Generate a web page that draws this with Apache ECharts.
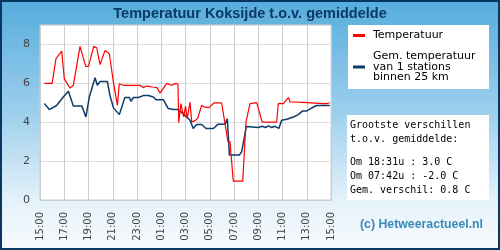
<!DOCTYPE html>
<html>
<head>
<meta charset="utf-8">
<script src="https://cdn.jsdelivr.net/npm/echarts@6/dist/echarts.min.js"></script>
<style>
  html, body { margin: 0; padding: 0; }
  #chart { width: 500px; height: 250px; }
</style>
</head>
<body>
<div id="chart"></div>
<script>
// uren na 15:00
var tempHours = [0.36, 1.0, 1.32, 1.79, 2.0, 2.47, 2.75, 3.3, 3.46, 3.77, 4.0, 4.43, 4.68, 4.95, 5.36, 5.72,
    6.05, 6.38, 6.54, 6.87, 8.25, 8.52, 8.8, 9.3, 9.65, 9.9, 10.45, 10.85, 11.2, 11.38, 11.44, 11.62, 11.85,
    12.0, 12.15, 12.37, 12.51, 12.78, 13.0, 13.33, 13.53, 13.69, 13.94, 14.35, 14.98, 15.5, 15.67, 15.94,
    16.72, 16.99, 17.32, 17.87, 18.0, 18.33, 19.52, 19.65, 20.07, 20.48, 20.62, 21.03, 21.17, 21.3, 21.44,
    23.37, 23.5, 23.64, 23.78, 23.9];
var tempValues = [6.0, 6.0, 7.27, 7.66, 6.24, 5.76, 5.9, 7.9, 7.9, 6.87, 6.87, 7.9, 7.83, 6.96, 7.69, 7.52,
    6.07, 4.87, 5.98, 5.9, 5.9, 5.78, 5.86, 5.81, 5.78, 5.5, 6.0, 5.9, 6.0, 5.95, 3.98, 4.96, 4.27,
    4.82, 4.19, 5.04, 4.02, 4.07, 4.19, 4.87, 4.79, 4.87, 4.75, 4.99, 4.99, 3.0, 3.0, 0.97,
    0.97, 4.02, 4.96, 5.01, 5.08, 4.0, 4.0, 4.96, 4.96, 5.27, 5.04, 5.04, 4.96, 5.03, 4.96,
    4.96, 5.04, 4.96, 5.04, 5.0];

var gemHours = [0.36, 0.77, 1.37, 1.92, 2.34, 2.47, 2.75, 3.44, 3.79, 4.07, 4.54, 4.73, 4.95, 5.55, 5.77,
    6.05, 6.54, 7.0, 7.37, 7.5, 7.7, 8.1, 8.52, 8.93, 9.35, 9.57, 10.17, 10.58, 11.0, 11.4, 11.8, 12.37,
    12.64, 12.92, 13.33, 13.69, 14.3, 14.7, 15.26, 15.45, 15.62, 16.44, 16.63, 17.02, 18.0, 18.3, 18.6,
    18.85, 19.1, 19.4, 19.7, 19.93, 20.35, 20.9, 21.3, 21.66, 22.0, 22.4, 22.82, 23.9];
var gemValues = [4.96, 4.65, 4.86, 5.3, 5.59, 5.59, 4.84, 4.84, 4.27, 5.3, 6.29, 5.9, 6.1, 6.1, 5.38,
    4.75, 4.39, 5.27, 5.27, 5.08, 5.27, 5.27, 5.37, 5.37, 5.3, 5.16, 5.16, 4.7, 4.65, 4.65, 4.44, 4.1,
    3.68, 3.88, 3.88, 3.68, 3.68, 3.9, 3.9, 4.17, 2.31, 2.31, 2.48, 3.78, 3.73, 3.79, 3.73,
    3.81, 3.73, 3.79, 3.68, 4.1, 4.15, 4.27, 4.39, 4.58, 4.58, 4.73, 4.86, 4.86];

var tickLabels = ['15:00', '17:00', '19:00', '21:00', '23:00', '01:00', '03:00',
    '05:00', '07:00', '09:00', '11:00', '13:00', '15:00'];

var statLines = ['Grootste verschillen', 't.o.v. gemiddelde:', '',
    'Om 18:31u : 3.0 C', 'Om 07:42u : -2.0 C', 'Gem. verschil: 0.8 C'];

var naamTemp = 'Temperatuur';
var naamGem = 'Gem. temperatuur\nvan 1 stations\nbinnen 25 km';

function pairs(xs, ys) {
    var out = [];
    for (var i = 0; i < xs.length; i++) out.push([xs[i], ys[i]]);
    return out;
}

var statTexts = [];
var ty = 126;
statLines.forEach(function(l, i) {
    if (l) {
        statTexts.push({
            type: 'text', left: 350, top: ty - 6, z: 10,
            style: { text: l, fill: '#000', font: '10px "DejaVu Sans Mono"' }
        });
    }
    ty += (l ? 14 : 9.5);
});

var chart = echarts.init(document.getElementById('chart'));
chart.setOption({
    animation: false,
    title: {
        text: 'Temperatuur Koksijde t.o.v. gemiddelde',
        left: 'center', top: 1,
        textStyle: { color: '#0b3a66', fontFamily: 'Liberation Sans', fontWeight: 'bold', fontSize: 14.5 }
    },
    graphic: [
        {
            type: 'rect', z: -10, silent: true,
            shape: { x: 1, y: 1, width: 498, height: 248 },
            style: {
                fill: new echarts.graphic.LinearGradient(0, 0, 0, 1, [
                    { offset: 0, color: '#55acdc' },
                    { offset: 0.45, color: '#9dcfed' },
                    { offset: 0.8, color: '#e4f1fa' },
                    { offset: 1, color: '#f8fbfe' }
                ]),
                stroke: '#0a3762', lineWidth: 2
            }
        },
        { type: 'rect', z: 1, shape: { x: 348, y: 25, width: 141, height: 64 }, style: { fill: '#fff' } },
        { type: 'rect', z: 1, shape: { x: 347, y: 115, width: 142, height: 85 }, style: { fill: '#fff' } },
        {
            type: 'text', left: 360, top: 219, z: 10,
            style: { text: '(c) Hetweeractueel.nl', fill: '#3a89b8', font: 'bold 12.3px "Liberation Sans"' }
        }
    ].concat(statTexts),
    legend: {
        orient: 'vertical', left: 353, top: 30, padding: 0, itemGap: 10,
        icon: 'rect', itemWidth: 12, itemHeight: 3,
        data: [naamTemp, naamGem],
        textStyle: { color: '#000', fontFamily: 'DejaVu Sans', fontSize: 11, lineHeight: 10.5, padding: [0, 0, 0, 3] }
    },
    grid: {
        left: 40, top: 25, width: 291, height: 175, show: true,
        backgroundColor: '#fff', borderColor: '#ccc', borderWidth: 1
    },
    xAxis: {
        type: 'value', min: 0, max: 24, interval: 2,
        axisLine: { show: true, lineStyle: { color: '#ccc' } },
        axisTick: { show: false },
        splitLine: { show: true, lineStyle: { color: '#cccccc' } },
        axisLabel: {
            rotate: 90, margin: 12, color: '#444', fontFamily: 'DejaVu Sans', fontSize: 10,
            formatter: function(v) { return tickLabels[Math.round(v / 2)]; }
        }
    },
    yAxis: {
        type: 'value', min: 0, max: 9, interval: 2,
        axisLine: { show: true, lineStyle: { color: '#ccc' } },
        axisTick: { show: false },
        splitLine: { show: true, lineStyle: { color: '#dddddd' } },
        axisLabel: { showMaxLabel: false, margin: 10, color: '#444', fontFamily: 'DejaVu Sans', fontSize: 11 }
    },
    series: [
        {
            name: naamTemp, type: 'line', showSymbol: false, z: 3,
            itemStyle: { color: '#ff0000' },
            lineStyle: { color: '#ff0000', width: 1.2 },
            data: pairs(tempHours, tempValues)
        },
        {
            name: naamGem, type: 'line', showSymbol: false, z: 2,
            itemStyle: { color: '#0d3c6a' },
            lineStyle: { color: '#0d3c6a', width: 1.5 },
            data: pairs(gemHours, gemValues)
        }
    ]
});
</script>
</body>
</html>
